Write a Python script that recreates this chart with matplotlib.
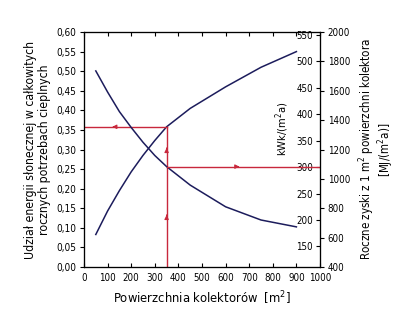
import matplotlib
matplotlib.use("Agg")
import matplotlib.pyplot as plt
from matplotlib.ticker import FuncFormatter

plt.rcParams["font.family"] = ["DejaVu Sans"]
plt.rcParams["font.stretch"] = "condensed"

# collector area [m2]
area = [50, 100, 150, 200, 250, 300, 350, 450, 600, 750, 900]
# solar fraction of annual heat demand
solar_share = [0.083, 0.143, 0.195, 0.243, 0.285, 0.323, 0.358, 0.405, 0.46, 0.51, 0.55]
# annual yield per m2 of collector [kWh/(m2a)]
yield_kwh = [482, 442, 405, 375, 347, 322, 301, 266, 225, 200, 187]

read_area = 350
read_share = 0.358
read_yield = 301

x_ticks = list(range(0, 1001, 100))
share_ticks = [i * 0.05 for i in range(13)]
kwh_ticks = [150, 200, 250, 300, 350, 400, 450, 500, 550]
mj_ticks = list(range(400, 2001, 200))

CURVE = "#1c1c5c"
RED = "#c8283c"

fig = plt.figure(figsize=(4.0, 3.14), dpi=100)
ax = fig.add_axes([0.21, 0.1497, 0.59, 0.7483])

ax.plot(area, solar_share, color=CURVE, lw=1.1)
ax.set_xlim(0, 1000)
ax.set_ylim(0, 0.6)
ax.set_xticks(x_ticks)
ax.set_yticks(share_ticks)
ax.yaxis.set_major_formatter(FuncFormatter(lambda v, p: f"{v:.2f}".replace(".", ",")))
ax.tick_params(axis="x", direction="in", top=True, length=3, labelsize=7, pad=4)
ax.tick_params(axis="y", direction="out", length=3, labelsize=7.2, pad=2.5)

# reading lines
ax.plot([read_area, read_area], [0, read_share], color=RED, lw=1)
ax.plot([0, read_area], [read_share, read_share], color=RED, lw=1)
ax.annotate("", xy=(120, read_share), xytext=(140, read_share),
            arrowprops=dict(arrowstyle="-|>", color=RED, lw=0.8, mutation_scale=6))
for y0 in (0.125, 0.296):
    ax.annotate("", xy=(read_area, y0 + 0.015), xytext=(read_area, y0),
                arrowprops=dict(arrowstyle="-|>", color=RED, lw=0.8, mutation_scale=6))

ax.set_xlabel("Powierzchnia kolektorów  [m$^2$]", fontsize=9.3, labelpad=5)
ax.set_ylabel("Udział energii słonecznej w całkowitych\nrocznych potrzebach cieplnych",
              fontsize=8.8, labelpad=4, linespacing=1.05)

ax2 = ax.twinx()
ax2.plot(area, yield_kwh, color=CURVE, lw=1.1)
ax2.plot([read_area, 1000], [read_yield, read_yield], color=RED, lw=1)
ax2.annotate("", xy=(670, read_yield), xytext=(640, read_yield),
             arrowprops=dict(arrowstyle="-|>", color=RED, lw=0.8, mutation_scale=6))
ax2.set_ylim(400 / 3.6, 2000 / 3.6)
ax2.set_yticks(kwh_ticks)
ax2.tick_params(axis="y", direction="in", length=3, labelsize=7, pad=-5)
for lbl in ax2.get_yticklabels():
    lbl.set_horizontalalignment("right")
ax2.text(0.84, 0.59, "kWk/(m$^2$a)", transform=ax2.transAxes, rotation=90,
         ha="center", va="center", fontsize=8)

ax3 = ax.twinx()
ax3.set_ylim(400, 2000)
ax3.set_yticks(mj_ticks)
ax3.tick_params(axis="y", direction="out", length=3, labelsize=7, pad=2.5)
ax3.set_ylabel("Roczne zyski z 1 m$^2$ powierzchni kolektora\n[MJ/(m$^2$a)]",
               fontsize=8.3, labelpad=5, linespacing=1.0)

fig.savefig("out.png", dpi=100)
